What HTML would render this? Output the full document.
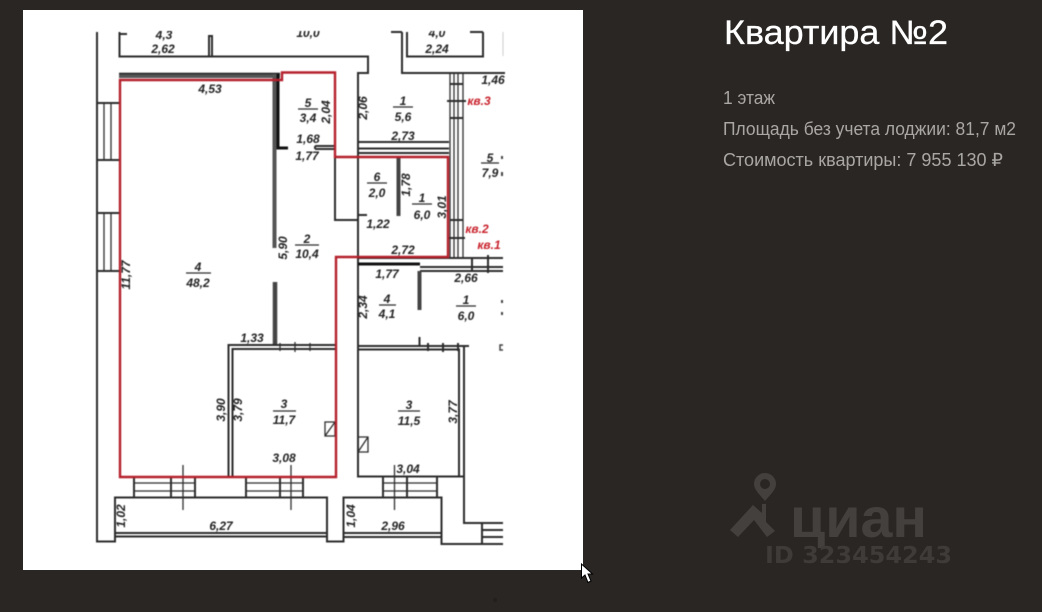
<!DOCTYPE html>
<html lang="ru"><head><meta charset="utf-8"><title>Квартира №2</title>
<style>
html,body{margin:0;padding:0;width:1042px;height:612px;overflow:hidden;background:#2a2624}
svg{display:block;position:absolute;left:0;top:0}
.plan{filter:blur(.4px)}
.l{font:italic 700 12px "Liberation Sans",sans-serif;fill:#222;text-anchor:middle}
.r{font:italic 700 12px "Liberation Sans",sans-serif;fill:#c8202a;text-anchor:middle}
.b{stroke:#2c2c2c;fill:none;stroke-width:2}
.t{stroke:#2c2c2c;fill:none;stroke-width:1.300}
.h{font-family:"Liberation Sans",sans-serif}
</style></head><body>
<svg width="1042" height="612" viewBox="0 0 1042 612" xmlns="http://www.w3.org/2000/svg">
<rect width="1042" height="612" fill="#2a2624"/>
<rect x="23" y="10" width="560" height="560" fill="#fff"/>
<g class="plan">
<!-- outer / top -->
<path class="b" d="M97 32V541.500H115V497.500H327V541.500H343.500V497.500H441.500V544H503"/>
<path class="b" d="M119.500 32V56.500H368V73H358V476.500H464V523H503"/>
<path class="b" d="M119.500 34H127M402 32V73H505M407 32V56.500H483V32M391 32H402M470 32H483"/>
<path d="M503 32V56" stroke="#ccc" stroke-width="1" fill="none"/>
<path class="b" d="M209 56V36h3V56"/>
<path d="M119 75.500H280" stroke="#555" stroke-width="5" fill="none"/>
<path d="M119 73.500H280" stroke="#222" stroke-width="1.500" fill="none"/>
<!-- left windows -->
<path class="b" d="M97 103H119M97 160H119M97 213H119M97 271H119"/>
<path class="t" d="M104 103V160M111 103V160M104 213V271M111 213V271"/>
<!-- room walls -->
<path d="M274.500 74V248" stroke="#555" stroke-width="4" fill="none"/>
<path d="M278 74V148H288" stroke="#111" stroke-width="3" fill="none"/>
<path d="M275 345V282" stroke="#444" stroke-width="4.500" fill="none"/>
<path class="b" d="M336 345H228.500V477M336 349H232.500V477"/>
<path class="t" d="M280 343V351M295 342V352M310 343V351"/>
<path class="b" d="M315 146H335M315 149H335M315 146V149"/>
<!-- balconies -->
<path class="b" d="M115 533H327M115 536.500H327M343.500 533H441.500M343.500 537H441.500"/>
<!-- bottom windows -->
<path class="b" d="M134 477V497M171 477V497M195 477V497M246 477V497M280 477V497M303 477V497M383 477V497M407 477V497M437 477V497"/>
<path class="t" d="M134 483H195M134 491H195M246 483H303M246 491H303M383 483H437M383 491H437M183 465V510M291 465V510M394.500 465V510"/>
<!-- squares -->
<path class="t" d="M325 422h10v14h-10zM325 436L335 422M358 437h10v15h-10zM358 452L368 437"/>
<!-- right upper -->
<path class="b" d="M358 142H449M358 148.500H449M358 153H449"/>
<path class="t" d="M450 73V257M454 73V257M458 73V257M463 73V257"/>
<path class="b" d="M450 84H463M447 101H466M450 118H463M450 220H463M447 238H465"/>
<path class="b" d="M398.500 157V216"/><path d="M398.500 157V216" stroke="#444" stroke-width="4" fill="none"/>
<path class="b" d="M335 157V220H358M358 215H367"/>
<!-- corridor -->
<path class="b" d="M358 258H503M420 267H503M420 271H503"/>
<path d="M358 264H420" stroke="#111" stroke-width="3"/>
<path d="M419.500 271V310" stroke="#444" stroke-width="4" fill="none"/>
<path class="b" d="M472 258V271M488 255V273"/>
<path class="b" d="M358 346H469M358 349.500H460M419.500 346V337M428 343V351M443 343V352M458 343V351"/>
<path class="b" d="M459 349V476.500M464 346V476.500"/>
<path class="b" d="M482 523V544"/>
<path class="b" d="M482 530H503M482 537H503"/>
<path d="M502 156v3M502 172v4M502 300v3M502 312v3" stroke="#444" stroke-width="2" fill="none"/>
<path d="M503 345h-3v5h3" stroke="#444" stroke-width="1.500" fill="none"/>
<!-- red outline -->
<path d="M120 80V477H336V257H448V157H335V72.500H282V80H120Z" fill="none" stroke="#b5202c" stroke-width="2.400"/>
<!-- fraction bars -->
<path class="t" d="M298 109H318M393 107H413M481 163H499M367 183H387M412 204H432M379 305H396M456 306H476M186 273H211M295 245H319M273 411H296M398 411H420"/>
<!-- labels -->
<g>
<text class="l" x="164" y="39">4,3</text><text class="l" x="163" y="53">2,62</text>
<text class="l" x="308" y="37">10,0</text><text class="l" x="437" y="37">4,0</text><text class="l" x="437" y="53">2,24</text>
<text class="l" x="210" y="93">4,53</text>
<text class="l" x="308" y="107">5</text><text class="l" x="308" y="122">3,4</text>
<text class="l" x="308" y="143">1,68</text><text class="l" x="307" y="160">1,77</text>
<text class="l" x="403" y="105">1</text><text class="l" x="403" y="121">5,6</text>
<text class="l" x="403" y="140">2,73</text><text class="l" x="493" y="84">1,46</text>
<text class="r" x="479" y="105">кв.3</text>
<text class="l" x="490" y="162">5</text><text class="l" x="490" y="177">7,9</text>
<text class="l" x="377" y="181">6</text><text class="l" x="377" y="197">2,0</text>
<text class="l" x="422" y="202">1</text><text class="l" x="422" y="219">6,0</text>
<text class="l" x="378" y="228">1,22</text>
<text class="r" x="477" y="233">кв.2</text><text class="r" x="489" y="249">кв.1</text>
<text class="l" x="403" y="254">2,72</text><text class="l" x="387" y="278">1,77</text><text class="l" x="466" y="282">2,66</text>
<text class="l" x="387" y="303">4</text><text class="l" x="387" y="318">4,1</text>
<text class="l" x="466" y="304">1</text><text class="l" x="466" y="320">6,0</text>
<text class="l" x="198" y="271">4</text><text class="l" x="198" y="287">48,2</text>
<text class="l" x="307" y="243">2</text><text class="l" x="307" y="258">10,4</text>
<text class="l" x="252" y="342">1,33</text>
<text class="l" x="284" y="408">3</text><text class="l" x="284" y="424">11,7</text>
<text class="l" x="284" y="462">3,08</text><text class="l" x="221" y="530">6,27</text>
<text class="l" x="409" y="409">3</text><text class="l" x="409" y="425">11,5</text>
<text class="l" x="408" y="473">3,04</text><text class="l" x="393" y="530">2,96</text>
<text class="l" transform="translate(330 112) rotate(-90)">2,04</text>
<text class="l" transform="translate(367 108) rotate(-90)">2,06</text>
<text class="l" transform="translate(410 185) rotate(-90)">1,78</text>
<text class="l" transform="translate(446 207) rotate(-90)">3,01</text>
<text class="l" transform="translate(367 307) rotate(-90)">2,34</text>
<text class="l" transform="translate(287 248) rotate(-90)">5,90</text>
<text class="l" transform="translate(130 275) rotate(-90)">11,77</text>
<text class="l" transform="translate(225 410) rotate(-90)">3,90</text>
<text class="l" transform="translate(242 410) rotate(-90)">3,79</text>
<text class="l" transform="translate(457 412) rotate(-90)">3,77</text>
<text class="l" transform="translate(125 516) rotate(-90)">1,02</text>
<text class="l" transform="translate(355 516) rotate(-90)">1,04</text>
</g>
<rect x="90" y="11" width="420" height="20" fill="#fff"/>
</g>
<!-- right column -->
<text class="h" x="724" y="44" font-size="34" fill="#fff" stroke="#fff" stroke-width=".3" textLength="224" lengthAdjust="spacingAndGlyphs">Квартира №2</text>
<text class="h" x="723" y="104" font-size="18" fill="#a9a7a4" textLength="52" lengthAdjust="spacingAndGlyphs">1 этаж</text>
<text class="h" x="723" y="135" font-size="18" fill="#a9a7a4" textLength="293" lengthAdjust="spacingAndGlyphs">Площадь без учета лоджии: 81,7 м2</text>
<text class="h" x="723" y="166" font-size="18" fill="#a9a7a4" textLength="280" lengthAdjust="spacingAndGlyphs">Стоимость квартиры: 7 955 130 ₽</text>
<!-- watermark -->
<g fill="#44403e">
<path fill-rule="evenodd" d="M765 473a11 11 0 0 1 11 11c0 6-7 12-11 17c-4-5-11-11-11-17a11 11 0 0 1 11-11zm0 6a5 5 0 1 0 0 10a5 5 0 0 0 0-10z"/>
<path d="M730 530L753 505L762 513V504H766V522L775 531L767 537L754 520L738 537Z"/>
<text x="790" y="537" font-family="Liberation Sans,sans-serif" font-weight="700" font-size="56" textLength="137" lengthAdjust="spacingAndGlyphs">циан</text>
<text x="765" y="563" font-family="DejaVu Sans,sans-serif" font-weight="700" font-size="23" textLength="187" lengthAdjust="spacingAndGlyphs" fill="#3f3b39">ID 323454243</text>
</g>
<circle cx="495" cy="600" r="2" fill="#221f1d"/>
<!-- cursor -->
<path d="M581.500 564V578L585 575L588 582.500L591 581L588 574H592.500Z" fill="#fff" stroke="#000" stroke-width="1"/>
</svg>
</body></html>
